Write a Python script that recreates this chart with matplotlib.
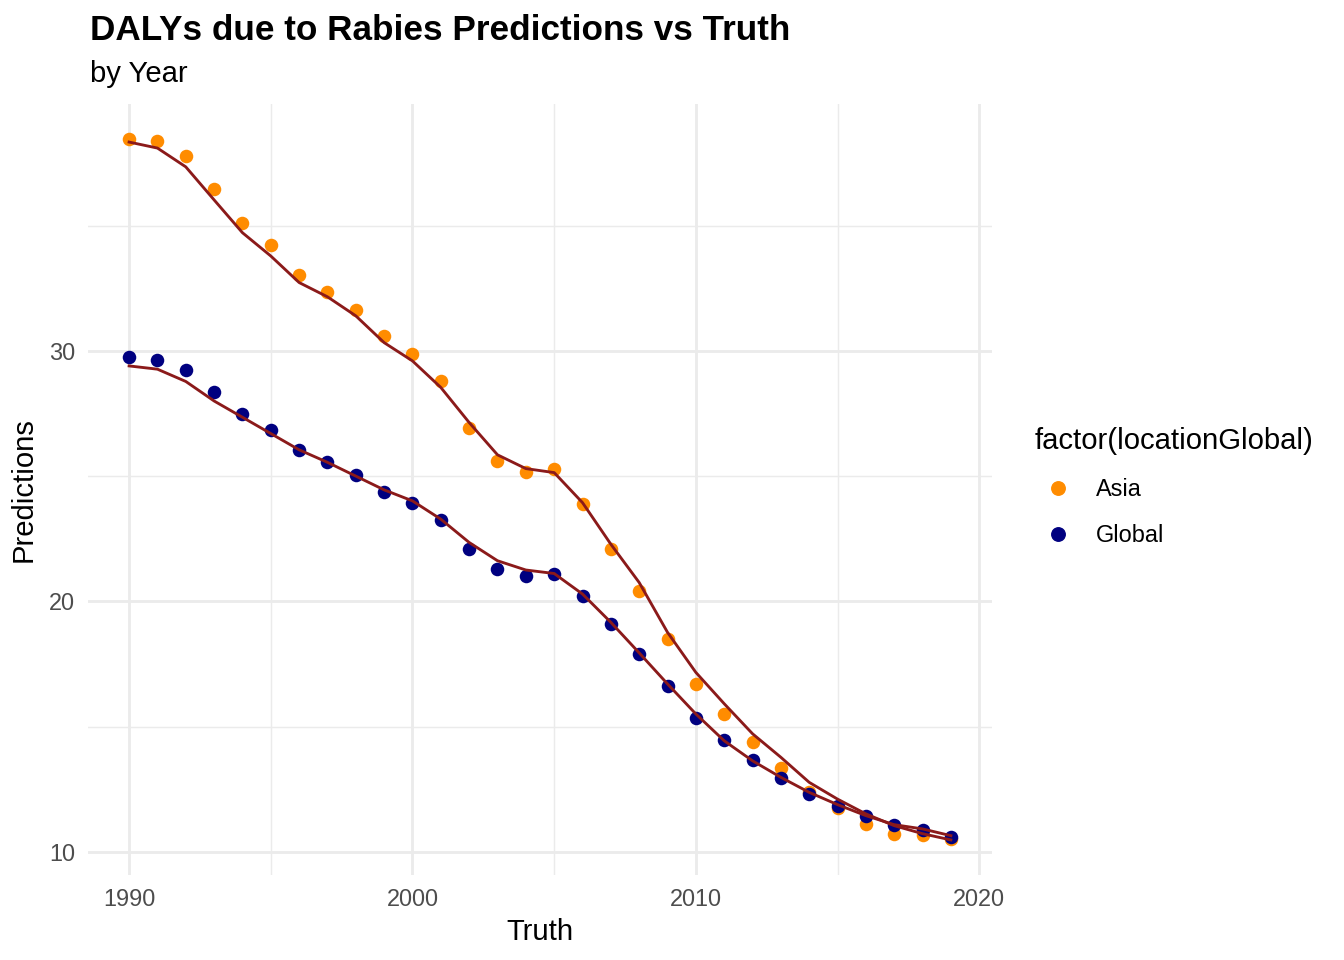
import matplotlib
matplotlib.use("Agg")
import matplotlib.pyplot as plt
from matplotlib.ticker import MultipleLocator
from matplotlib.lines import Line2D

plt.rcParams['font.family'] = ['Liberation Sans', 'DejaVu Sans']

years = list(range(1990, 2020))

# observed values (points)
asia_truth = [38.46, 38.38, 37.78, 36.47, 35.11, 34.23, 33.03, 32.36, 31.64, 30.60,
              29.88, 28.80, 26.93, 25.61, 25.17, 25.29, 23.89, 22.10, 20.42, 18.50,
              16.71, 15.51, 14.39, 13.35, 12.38, 11.76, 11.12, 10.72, 10.68, 10.52]
global_truth = [29.76, 29.64, 29.24, 28.36, 27.49, 26.85, 26.05, 25.57, 25.05, 24.37,
                23.93, 23.25, 22.10, 21.30, 21.02, 21.10, 20.22, 19.10, 17.90, 16.63,
                15.35, 14.47, 13.67, 12.95, 12.32, 11.84, 11.44, 11.08, 10.88, 10.60]

# model predictions (lines)
asia_pred = [38.34, 38.10, 37.35, 36.03, 34.72, 33.79, 32.73, 32.16, 31.40, 30.33,
             29.60, 28.54, 27.14, 25.85, 25.30, 25.14, 23.94, 22.28, 20.75, 18.76,
             17.16, 15.91, 14.71, 13.77, 12.77, 12.10, 11.51, 11.04, 10.72, 10.47]
global_pred = [29.40, 29.27, 28.78, 28.00, 27.35, 26.70, 26.05, 25.55, 25.00, 24.45,
               24.01, 23.28, 22.35, 21.62, 21.25, 21.11, 20.29, 19.16, 17.94, 16.70,
               15.50, 14.43, 13.63, 12.97, 12.37, 11.88, 11.44, 11.08, 10.91, 10.64]

labels = ["Asia", "Global"]
point_colors = ["#FF8C00", "#000080"]
line_color = "#8B1A1A"

fig = plt.figure(figsize=(13.44, 9.6), dpi=100)
ax = fig.add_axes([88 / 1344, 1 - 875 / 960, (992 - 88) / 1344, (875 - 104) / 960])

ax.scatter(years, asia_truth, s=95, color=point_colors[0], linewidths=0, zorder=3)
ax.scatter(years, global_truth, s=95, color=point_colors[1], linewidths=0, zorder=3)
ax.plot(years, asia_pred, color=line_color, lw=2.05, zorder=4)
ax.plot(years, global_pred, color=line_color, lw=2.05, zorder=4)

ax.set_xlim(1988.55, 2020.45)
ax.set_ylim(9.07, 39.86)
ax.xaxis.set_major_locator(MultipleLocator(10))
ax.xaxis.set_minor_locator(MultipleLocator(5))
ax.yaxis.set_major_locator(MultipleLocator(10))
ax.yaxis.set_minor_locator(MultipleLocator(5))
ax.set_yticks([10, 20, 30])

ax.grid(which='major', color='#EBEBEB', lw=2.05)
ax.grid(which='minor', color='#EBEBEB', lw=1.03)
ax.set_axisbelow(True)
for s in ax.spines.values():
    s.set_visible(False)
ax.tick_params(which='both', length=0)
ax.tick_params(axis='both', labelsize=16.9, labelcolor='#4D4D4D', pad=9.5)

ax.set_xlabel("Truth", fontsize=21.1, labelpad=5)
ax.set_ylabel("Predictions", fontsize=21.1, labelpad=8)

fig.text(90 / 1344, 1 - 40 / 960, "DALYs due to Rabies Predictions vs Truth",
         fontsize=25.3, fontweight='bold', ha='left', va='baseline')
fig.text(90 / 1344, 1 - 82 / 960, "by Year", fontsize=21.1, ha='left', va='baseline')

handles = [Line2D([], [], marker='o', ls='', color=c, markersize=9.7) for c in point_colors]
leg = fig.legend(handles, labels, title="factor(locationGlobal)", loc='center left',
                 bbox_to_anchor=(1035 / 1344, 1 - 487 / 960), frameon=False,
                 fontsize=16.9, title_fontsize=21.1, handletextpad=0.6,
                 labelspacing=1.0, borderpad=0, borderaxespad=0)
leg._legend_box.align = "left"

fig.savefig("out.png", dpi=100)
